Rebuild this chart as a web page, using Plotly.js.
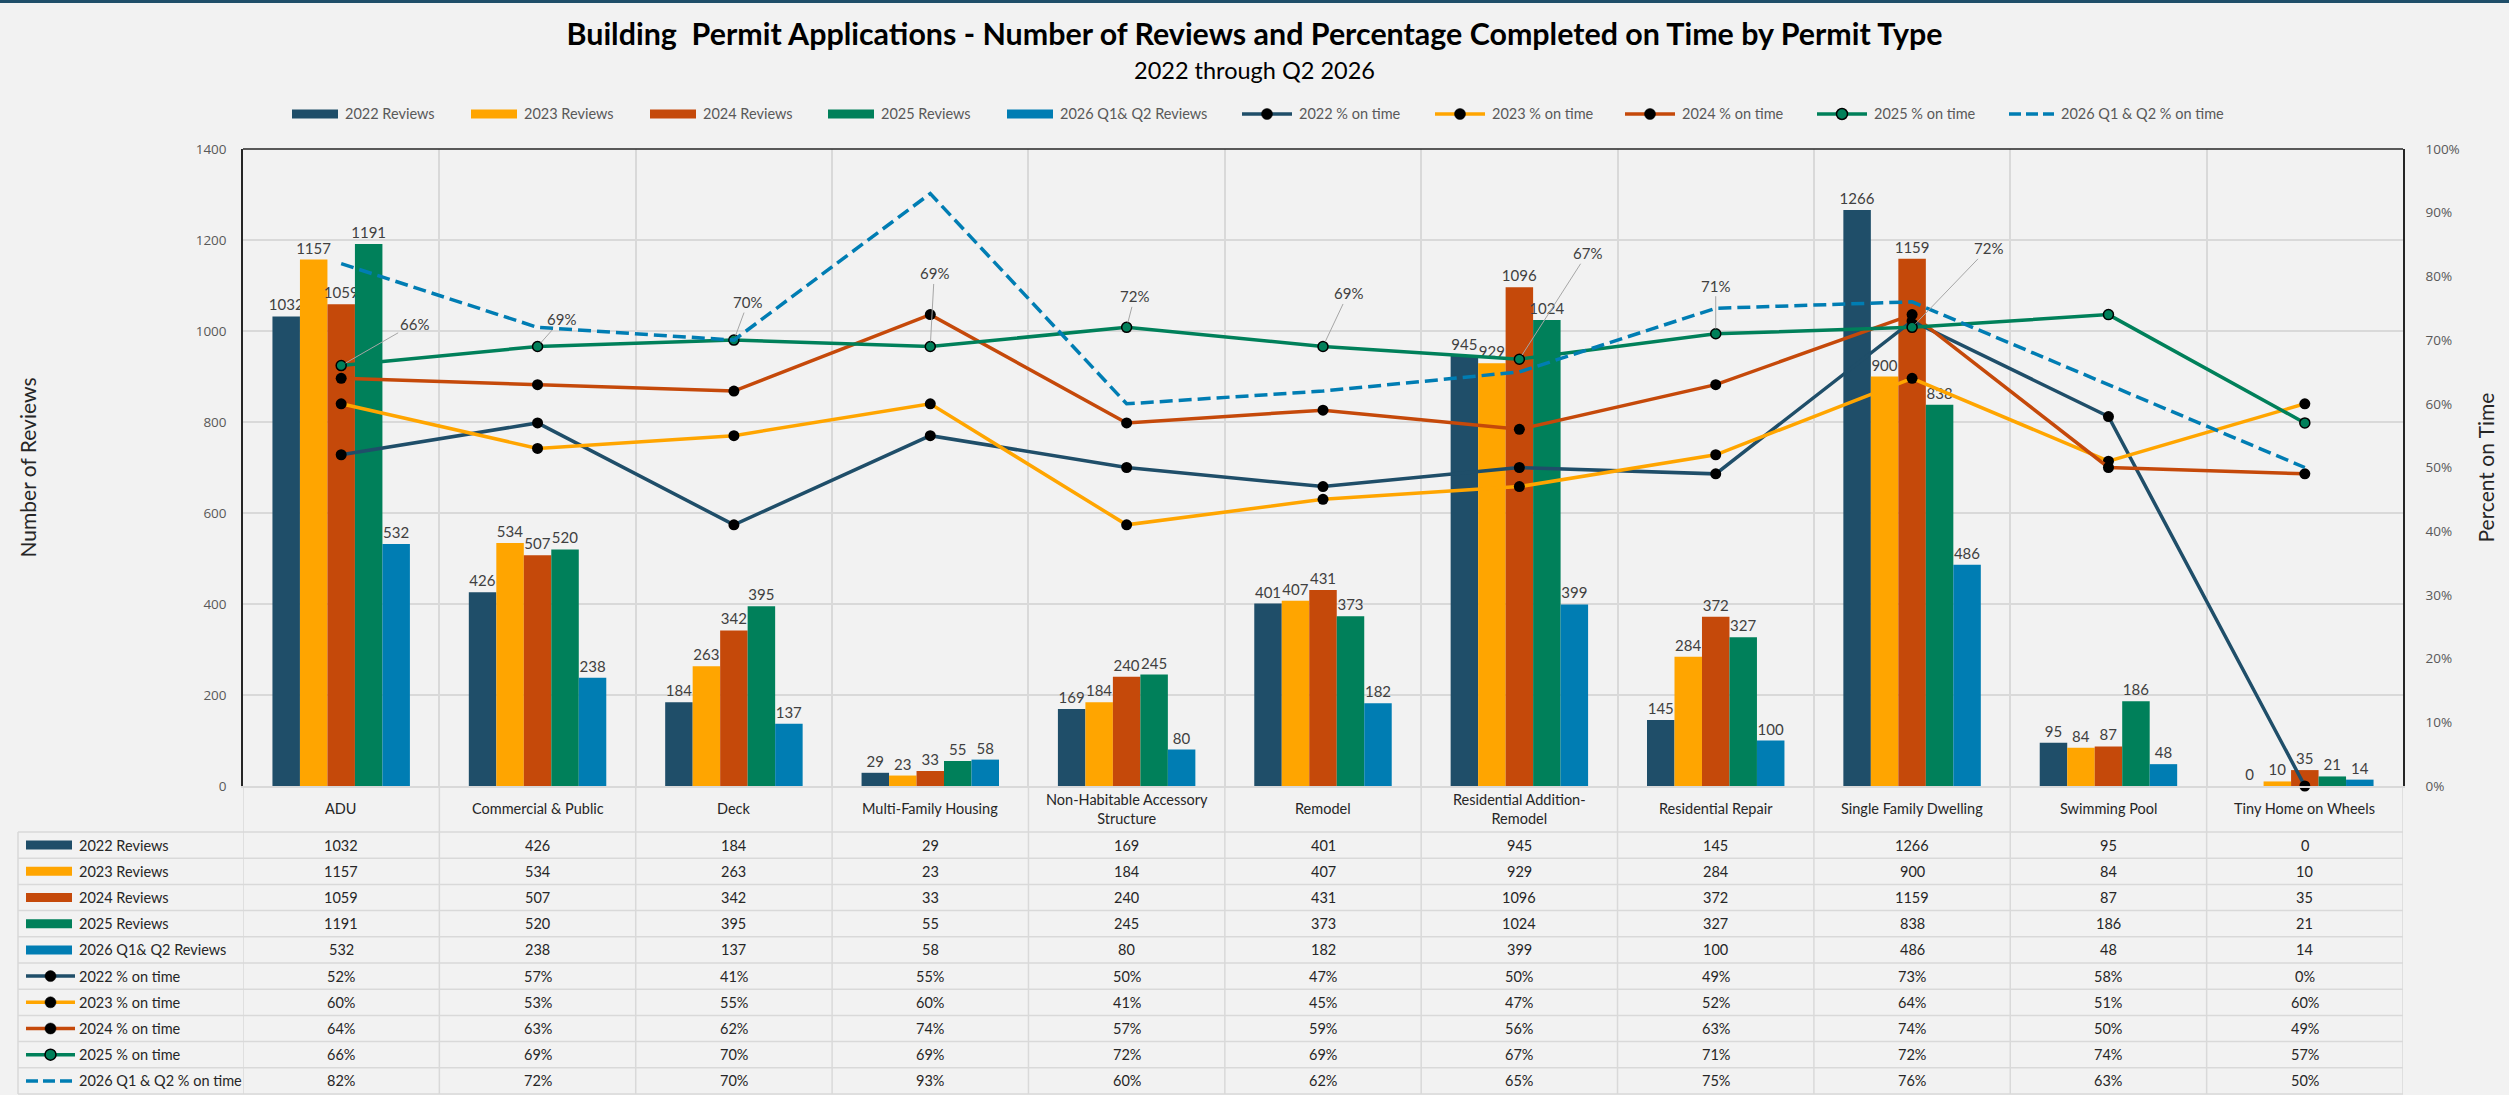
<!DOCTYPE html>
<html><head><meta charset="utf-8">
<script src="https://cdn.plot.ly/plotly-3.0.1.min.js"></script>
<style>html,body{margin:0;padding:0;background:#F2F2F2;} #chart{width:2509px;height:1095px;}</style>
</head><body><div id="chart"></div>
<script>
// ---------------- DATA ----------------
const categories = ["ADU","Commercial & Public","Deck","Multi-Family Housing","Non-Habitable Accessory Structure","Remodel","Residential Addition-Remodel","Residential Repair","Single Family Dwelling","Swimming Pool","Tiny Home on Wheels"];
const categoryLabels = ["ADU","Commercial & Public","Deck","Multi-Family Housing","Non-Habitable Accessory<br>Structure","Remodel","Residential Addition-<br>Remodel","Residential Repair","Single Family Dwelling","Swimming Pool","Tiny Home on Wheels"];
const reviews2022 = [1032,426,184,29,169,401,945,145,1266,95,0];
const reviews2023 = [1157,534,263,23,184,407,929,284,900,84,10];
const reviews2024 = [1059,507,342,33,240,431,1096,372,1159,87,35];
const reviews2025 = [1191,520,395,55,245,373,1024,327,838,186,21];
const reviews2026 = [532,238,137,58,80,182,399,100,486,48,14];
const onTime2022 = [0.52,0.57,0.41,0.55,0.50,0.47,0.50,0.49,0.73,0.58,0.00];
const onTime2023 = [0.60,0.53,0.55,0.60,0.41,0.45,0.47,0.52,0.64,0.51,0.60];
const onTime2024 = [0.64,0.63,0.62,0.74,0.57,0.59,0.56,0.63,0.74,0.50,0.49];
const onTime2025 = [0.66,0.69,0.70,0.69,0.72,0.69,0.67,0.71,0.72,0.74,0.57];
const onTime2026 = [0.82,0.72,0.70,0.93,0.60,0.62,0.65,0.75,0.76,0.63,0.50];
const barNames = ["2022 Reviews","2023 Reviews","2024 Reviews","2025 Reviews","2026 Q1& Q2 Reviews"];
const lineNames = ["2022 % on time","2023 % on time","2024 % on time","2025 % on time","2026 Q1 & Q2 % on time"];
const titleText = "Building  Permit Applications - Number of Reviews and Percentage Completed on Time by Permit Type";
const subtitleText = "2022 through Q2 2026";
const leftAxisTitle = "Number of Reviews";
const rightAxisTitle = "Percent on Time";

// ---------------- STYLE / LAYOUT ----------------
const barSeries = [reviews2022,reviews2023,reviews2024,reviews2025,reviews2026];
const lineSeries = [onTime2022,onTime2023,onTime2024,onTime2025,onTime2026];
const colors = ["#1F4E69","#FFA500","#C5490A","#00805A","#007DB3"];
const FONT = "Lato, 'Open Sans', sans-serif";
const W=2509,H=1095, ml=243, mr=106, mt=149, mb=309;
const pw=W-ml-mr, ph=H-mt-mb;
const px = v => (v-ml)/pw;
const py = v => (H-mb-v)/ph;

// 2025 line label offsets (px) [dx, dy]; null = no label
const labelOffsets = [[73,-42],[24,-27],[14,-38],[4,-73],[8,-31],[25,-53],[68,-106],[0,-48],[76,-79],null,null];

const traces = [];
barSeries.forEach((vals,i)=>{
  traces.push({type:'bar', name:barNames[i], x:categories, y:vals, yaxis:'y',
    marker:{color:colors[i]}, text:vals.map(String), textposition:'outside', constraintext:'none',
    textfont:{family:FONT,size:15,color:'#404040'}, outsidetextfont:{family:FONT,size:15,color:'#404040'},
    cliponaxis:false, hoverinfo:'x+y'});
});
lineSeries.forEach((vals,i)=>{
  const t = {type:'scatter', name:lineNames[i], x:categories, y:vals, yaxis:'y2',
    mode:'lines+markers', line:{color:colors[i], width:3.5},
    marker:{color:'#000000', size:11}, cliponaxis:false};
  if(i===3){ t.marker = {color:colors[3], size:10, line:{color:'#000', width:1.5}}; }
  if(i===4){ t.mode='lines'; t.line = {color:colors[4], width:3.5, dash:'13px,6px'}; }
  traces.push(t);
});

const shapes = [];
const annotations = [];
// top band
shapes.push({type:'rect', xref:'paper', yref:'paper', x0:px(0), x1:px(W), y0:py(3), y1:py(0), fillcolor:'#1F4E69', line:{width:0}, layer:'above'});
// top border of plot
shapes.push({type:'line', xref:'paper', yref:'paper', x0:0, x1:1, y0:1, y1:1, line:{color:'#262626', width:1.5}});
// vertical dividers below plot
for(let i=0;i<=categories.length;i++){
  shapes.push({type:'line', xref:'x', yref:'paper', x0:i-0.5, x1:i-0.5, y0:0, y1:py(1094), line:{color:'#D9D9D9', width:1.5}});
}
// table
const tableTop=832, rowH=26.2, nRows=10, tableLeft=18;
shapes.push({type:'line', xref:'paper', yref:'paper', x0:px(tableLeft), x1:px(tableLeft), y0:py(tableTop), y1:py(tableTop+rowH*nRows), line:{color:'#D9D9D9', width:1.5}});
for(let k=0;k<=nRows;k++){
  const y = tableTop + rowH*k;
  shapes.push({type:'line', xref:'paper', yref:'paper', x0:px(tableLeft), x1:1, y0:py(y), y1:py(y), line:{color:'#D9D9D9', width:1.5}});
}

function key(idx, x0, w, cy){
  if(idx<5){
    shapes.push({type:'rect', xref:'paper', yref:'paper', x0:px(x0), x1:px(x0+w), y0:py(cy+4.5), y1:py(cy-4.5), fillcolor:colors[idx], line:{width:0}});
  } else {
    const s = idx-5;
    shapes.push({type:'line', xref:'paper', yref:'paper', x0:px(x0), x1:px(x0+w), y0:py(cy), y1:py(cy),
      line:{color:colors[s], width:3.5, dash: s===4 ? '12px,5px' : 'solid'}});
    if(s<4){
      const r = 5.5, cx = x0+w/2;
      shapes.push({type:'circle', xref:'paper', yref:'paper', x0:px(cx-r), x1:px(cx+r), y0:py(cy+r), y1:py(cy-r),
        fillcolor: s===3 ? colors[3] : '#000000', line:{color:'#000000', width: s===3?1.5:0.5}});
    }
  }
}
const allNames = barNames.concat(lineNames);
// top legend
const legendKeyX = [292,471,650,828,1007,1242,1435,1625,1817,2009];
const legendY = 114;
allNames.forEach((n,idx)=>{
  const w = idx<5 ? 46 : (idx===9 ? 45 : 50);
  key(idx, legendKeyX[idx], w, legendY);
  annotations.push({xref:'paper', yref:'paper', x:px(legendKeyX[idx]+w+5), y:py(legendY), xanchor:'left', yanchor:'middle',
    showarrow:false, text:n, font:{family:FONT, size:14.5, color:'#595959'}});
});
// table rows
allNames.forEach((n,k)=>{
  const cy = tableTop + rowH*(k+0.5);
  key(k, 26, k<5?46:49, cy);
  annotations.push({xref:'paper', yref:'paper', x:px(77), y:py(cy), xanchor:'left', yanchor:'middle',
    showarrow:false, text:n, font:{family:FONT, size:14.5, color:'#262626'}});
  const vals = k<5 ? barSeries[k] : lineSeries[k-5];
  vals.forEach((v,i)=>{
    annotations.push({xref:'x', yref:'paper', x:i, y:py(cy), xanchor:'center', yanchor:'middle', showarrow:false,
      text: k<5 ? String(v) : Math.round(v*100)+'%', font:{family:FONT, size:14.5, color:'#262626'}});
  });
});
// category labels
categoryLabels.forEach((c,i)=>{
  annotations.push({xref:'x', yref:'paper', x:i, y:py(809), xanchor:'center', yanchor:'middle', showarrow:false,
    text:c, font:{family:FONT, size:14.5, color:'#262626'}});
});
// 2025 line data labels
onTime2025.forEach((v,i)=>{
  const o = labelOffsets[i];
  if(!o) return;
  annotations.push({xref:'x', yref:'y2', x:i, y:v, ax:o[0], ay:o[1], showarrow:true, arrowhead:0, arrowwidth:1,
    arrowcolor:'#A6A6A6', standoff:5, text:Math.round(v*100)+'%', font:{family:FONT, size:15, color:'#404040'}});
});
// subtitle & axis titles
annotations.push({xref:'paper', yref:'paper', x:px(1254), y:py(70), xanchor:'center', yanchor:'middle', showarrow:false,
  text:subtitleText, font:{family:FONT, size:23.5, color:'#000'}});
annotations.push({xref:'paper', yref:'paper', x:px(27), y:0.5, xanchor:'center', yanchor:'middle', showarrow:false, textangle:-90,
  text:leftAxisTitle, font:{family:FONT, size:21, color:'#262626'}});
annotations.push({xref:'paper', yref:'paper', x:px(2485), y:0.5, xanchor:'center', yanchor:'middle', showarrow:false, textangle:-90,
  text:rightAxisTitle, font:{family:FONT, size:21, color:'#262626'}});

const layout = {
  width:W, height:H, margin:{l:ml, r:mr, t:mt, b:mb, autoexpand:false},
  paper_bgcolor:'#F2F2F2', plot_bgcolor:'#F2F2F2',
  font:{family:FONT},
  showlegend:false,
  title:{text:'<b>'+titleText+'</b>', font:{family:FONT, size:30.4, color:'#000'}, x:0.5, xref:'container', xanchor:'center',
    y:1-34/H, yref:'container', yanchor:'middle'},
  barmode:'group', bargap:0.3, bargroupgap:0,
  xaxis:{type:'category', tickson:'boundaries', showgrid:true, gridcolor:'#D9D9D9', gridwidth:1.5, showticklabels:false,
    ticks:'', showline:true, linecolor:'#D9D9D9', linewidth:1.5, range:[-0.5,10.5], zeroline:false, fixedrange:true},
  yaxis:{range:[0,1400], dtick:200, tickfont:{family:"'Open Sans', sans-serif", size:13.5, color:'#595959'},
    gridcolor:'#D9D9D9', gridwidth:1.5, showline:true, linecolor:'#262626', linewidth:1.5, ticks:'', ticklabelstandoff:12, zeroline:false},
  yaxis2:{overlaying:'y', side:'right', range:[0,1], dtick:0.1, tickformat:'.0%', showgrid:false, zeroline:false,
    tickfont:{family:"'Open Sans', sans-serif", size:13.5, color:'#595959'},
    showline:true, linecolor:'#262626', linewidth:1.5, ticks:'', ticklabelstandoff:18},
  shapes:shapes, annotations:annotations
};
Plotly.newPlot('chart', traces, layout, {displayModeBar:false, responsive:false});
</script>
</body></html>
